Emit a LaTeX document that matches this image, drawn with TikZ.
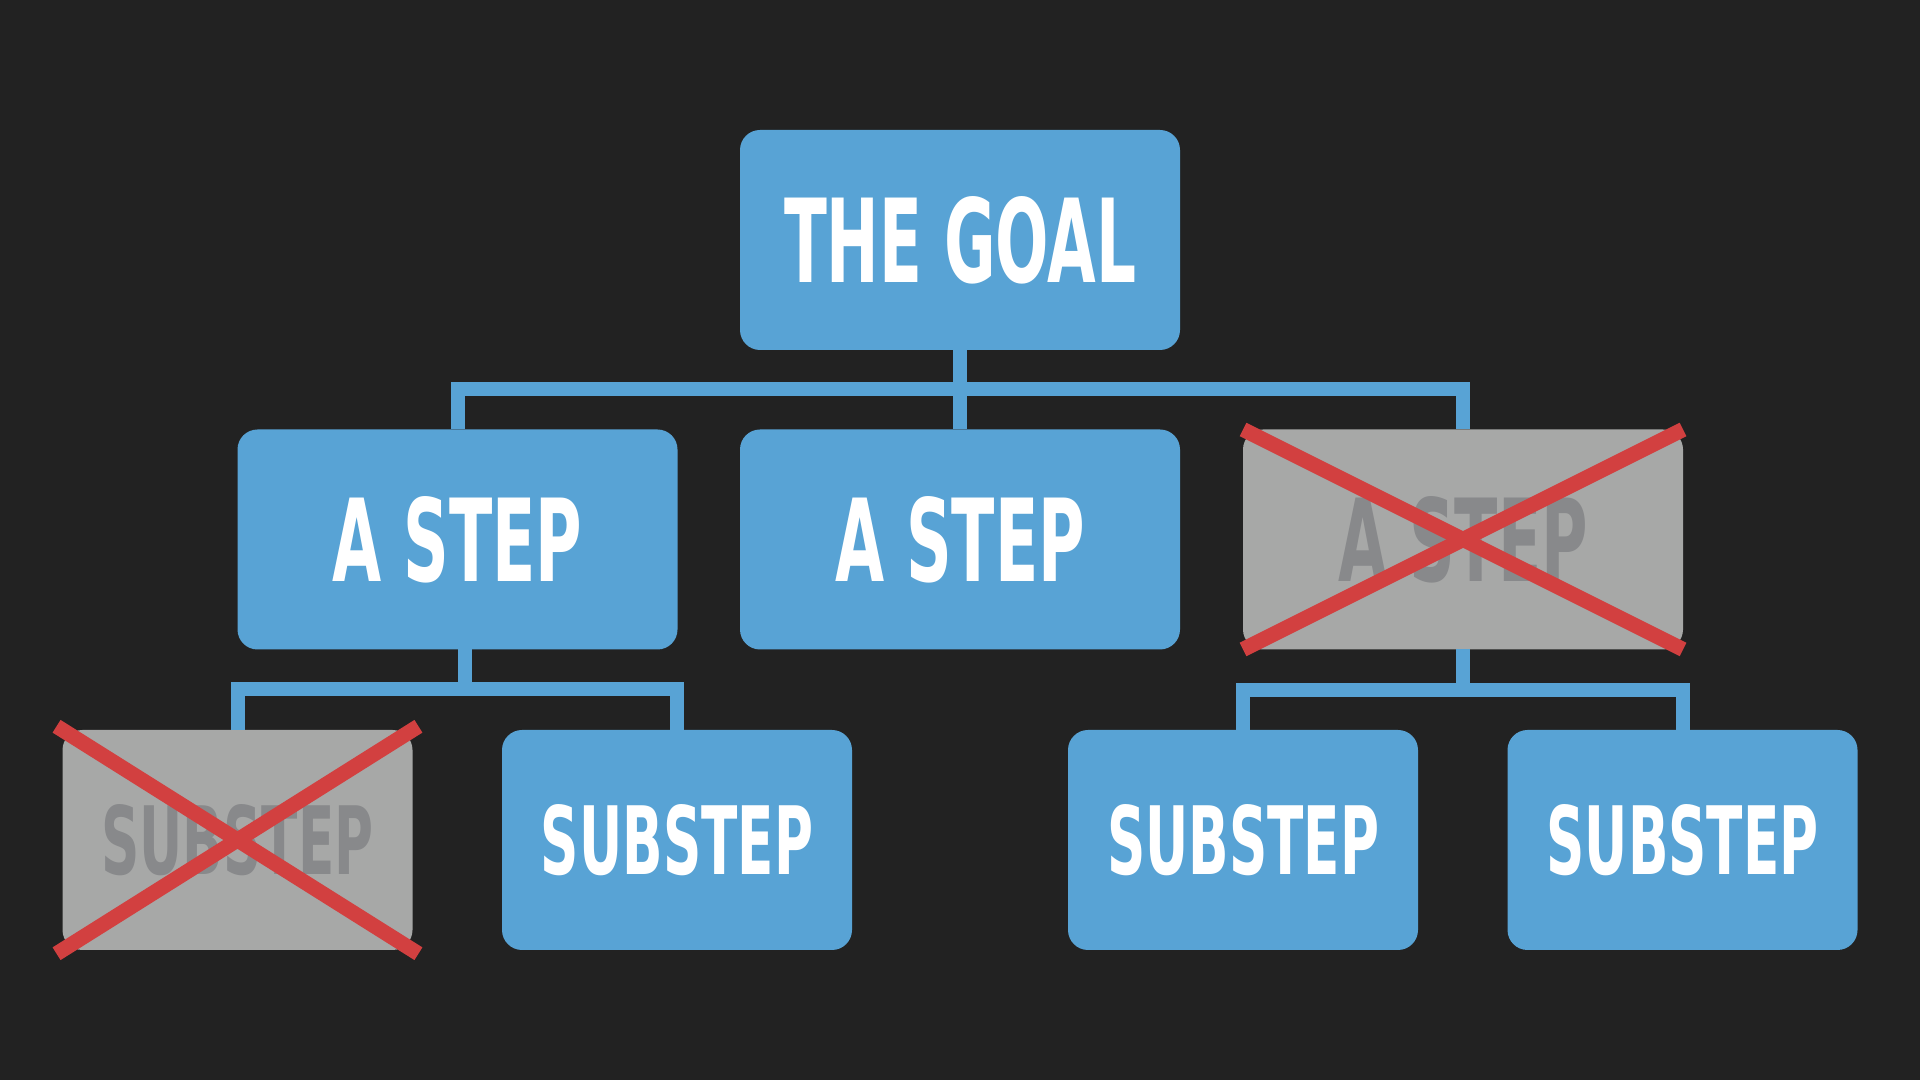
\documentclass[tikz,border=0pt]{standalone}
\usepackage{fontspec}
\usepackage{graphicx}
\usetikzlibrary{positioning}
\newfontfamily\signfont{DejaVu Sans Condensed Bold}
\definecolor{bg}{HTML}{222222}
\definecolor{goalblue}{HTML}{58A3D5}
\definecolor{dropgrey}{HTML}{A7A8A7}
\definecolor{droptext}{HTML}{88898B}
\definecolor{strike}{HTML}{D24040}
\newcommand{\goalfit}[1]{\resizebox{3.52cm}{0.86cm}{#1}}
\newcommand{\stepfit}[1]{\resizebox{2.5cm}{0.85cm}{#1}}
\newcommand{\subfit}[1]{\resizebox{2.72cm}{0.70cm}{#1}}

\begin{document}
\begin{tikzpicture}[
  box/.style={rectangle, rounded corners=0.2cm, fill=goalblue, text=white,
    inner sep=0pt, outer sep=0pt, minimum width=4.4cm, minimum height=2.2cm,
    font=\signfont},
  subbox/.style={box, minimum width=3.5cm},
  dropped/.style={fill=dropgrey, text=droptext},
  link/.style={goalblue, line width=0.14cm},
  cross/.style={strike, line width=0.15cm}
]
  \fill[bg] (0,0) rectangle (19.2,10.8);
  \useasboundingbox (0,0) rectangle (19.2,10.8);
  % Goal
  \node[box] (goal) at (9.6,8.4) {\goalfit{THE GOAL}};
  % Steps
  \node[box] (stepA) at (4.575,5.405) {\stepfit{A STEP}};
  \node[box] (stepB) at (9.6,5.405) {\stepfit{A STEP}};
  \node[box, dropped] (stepC) at (14.63,5.405) {\stepfit{A STEP}};
  % Substeps
  \node[subbox, dropped] (subA) at (2.375,2.4) {\subfit{SUBSTEP}};
  \node[subbox] (subB) at (6.77,2.4) {\subfit{SUBSTEP}};
  \node[subbox] (subC) at (12.43,2.4) {\subfit{SUBSTEP}};
  \node[subbox] (subD) at (16.825,2.4) {\subfit{SUBSTEP}};
  % Goal to steps
  \coordinate (topbus) at (9.6,6.91);
  \draw[link] (goal.south) -- (topbus);
  \draw[link] (stepA.north) |- (topbus) -| (stepC.north);
  \draw[link] (topbus) -- (stepB.north);
  % Steps to substeps
  \coordinate (leftbus) at (4.65,3.91);
  \draw[link] (stepA.south -| leftbus) -- (leftbus);
  \draw[link] (subA.north) |- (leftbus) -| (subB.north);
  \coordinate (rightbus) at (14.63,3.9);
  \draw[link] (stepC.south) -- (rightbus);
  \draw[link] (subC.north) |- (rightbus) -| (subD.north);
  % Struck out
  \draw[cross] (stepC.north west) -- (stepC.south east);
  \draw[cross] (stepC.south west) -- (stepC.north east);
  \draw[cross, shorten <=-0.07cm, shorten >=-0.07cm]
    (subA.north west) -- (subA.south east);
  \draw[cross, shorten <=-0.07cm, shorten >=-0.07cm]
    (subA.south west) -- (subA.north east);
\end{tikzpicture}
\end{document}
